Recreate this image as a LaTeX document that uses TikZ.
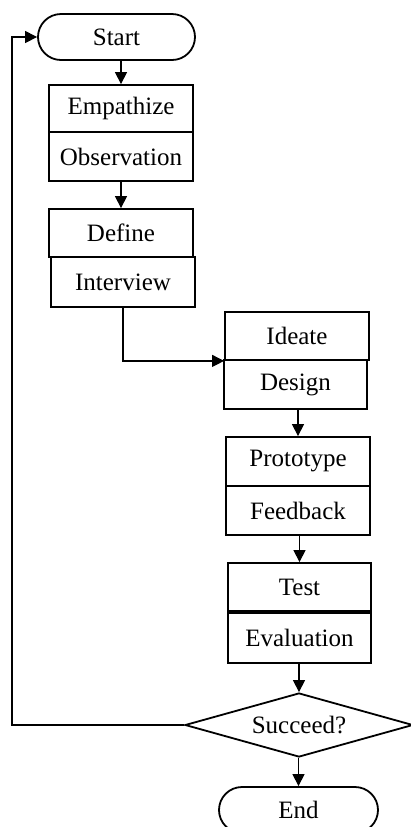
\documentclass[tikz,border=0pt]{standalone}
\usepackage{fontspec}
\setmainfont{Liberation Serif}
\usetikzlibrary{shapes.geometric}
\usetikzlibrary{shapes.misc}
\usetikzlibrary{arrows.meta}

\begin{document}
\begin{tikzpicture}[x=0.5pt,y=0.5pt,yscale=-1,xscale=1,
  font=\fontsize{12.5}{14}\selectfont,
  stage/.style={draw,line width=0.9pt,minimum width=72pt,minimum height=24pt,inner sep=0pt},
  term/.style={draw,line width=0.9pt,rounded rectangle,minimum width=78.5pt,minimum height=23pt,inner sep=0pt},
  flow/.style={line width=0.6pt,-{Triangle[length=6pt,width=6pt]}}]
%set diagram size
\useasboundingbox (0,0) rectangle (411,827);

%Terminal: start
\node [term] (start) at (116.5,37) {Start};

%Stage boxes
\node [stage,minimum height=23.5pt] (emp) at (121,108.5) {Empathize};
\node [stage,minimum height=24.5pt] (obs) at (121,156.5) {Observation};
\node [stage] (def) at (121,233) {Define};
\node [stage,minimum height=25pt] (int) at (123,282) {Interview};
\node [stage] (ide) at (297,336) {Ideate};
\node [stage,minimum width=71.5pt,minimum height=24.5pt] (des) at (295.5,384.5) {Design};
\node [stage,minimum height=24.5pt] (pro) at (298,461.5) {Prototype};
\node [stage,minimum height=24.5pt] (fee) at (298,510.5) {Feedback};
\node [stage,minimum width=71.5pt] (tes) at (299.5,587) {Test};
\node [stage,minimum width=71.5pt,minimum height=25pt] (eva) at (299.5,638) {Evaluation};

%Decision
\node [draw,diamond,line width=0.9pt,minimum width=114pt,minimum height=32pt,inner sep=0pt,shape aspect=3.5] (dec) at (299,725) {Succeed?};

%Terminal: end
\node [term,minimum width=79.5pt] (end) at (298.5,810) {End};

%Connectors
\draw [flow] (start.south -| emp.north) -- (emp.north);
\draw [flow] (obs.south -| def.north) -- (def.north);
\draw [flow] (int.south) |- (ide.south west);
\draw [flow] (des.south -| pro.north) -- (pro.north);
\draw [flow] (fee.south -| tes.north) -- (tes.north);
\draw [flow] (eva.south -| dec.north) -- (dec.north);
\draw [flow] (dec.south -| end.north) -- (end.north);

%Loop back to start
\coordinate (back) at (12,725);
\draw [flow] (dec.west) -- (back) |- (start.west);

\end{tikzpicture}
\end{document}
